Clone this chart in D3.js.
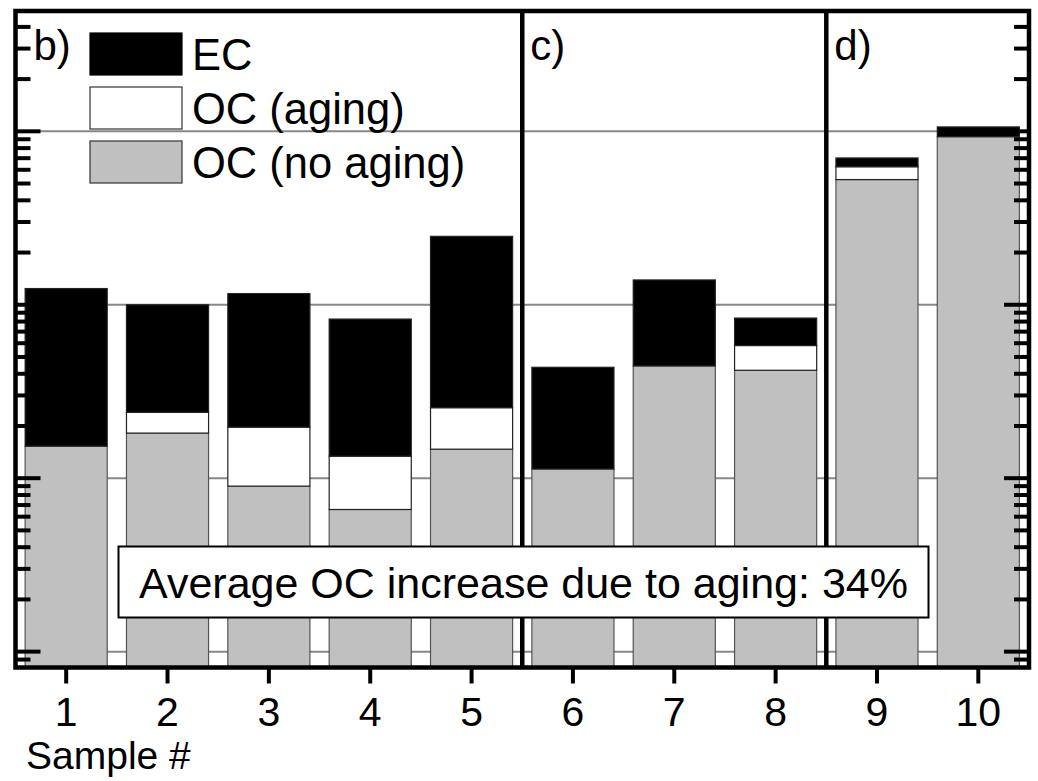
<!DOCTYPE html>
<html>
<head>
<meta charset="utf-8">
<script src="https://cdn.jsdelivr.net/npm/d3@7"></script>
<style>
  html, body { margin: 0; padding: 0; background: #fff; }
  svg { display: block; font-family: "Liberation Sans", Arial, sans-serif; }
</style>
</head>
<body>
<svg id="chart" width="1038" height="781"></svg>
<script>
// ---- data ----
const samples = ["1", "2", "3", "4", "5", "6", "7", "8", "9", "10"];
const ocNoAging = [1.53, 1.82, 0.90, 0.66, 1.47, 1.13, 4.44, 4.19, 52.7, 93.1];
const ocAging   = [0, 0.58, 1.07, 0.68, 1.08, 0, 0, 1.63, 9.8, 0];
const ec        = [10.87, 7.6, 9.63, 6.93, 22.25, 3.23, 9.46, 2.56, 7.7, 12.9];
const seriesNames = ["EC", "OC (aging)", "OC (no aging)"];
const panelLabels = ["b)", "c)", "d)"];
const gridValues = [0.1, 1, 10, 100];
const yDomain = [0.081, 494];
const annotation = "Average OC increase due to aging: 34%";
const xTitle = "Sample #";

// ---- layout ----
const L = 15.5, R = 1029, T = 11, B = 667.5;
const svg = d3.select("#chart");

const x = d3.scaleBand().domain(samples).range([L, R]).paddingInner(0.19).paddingOuter(0.095);
const y = d3.scaleLog().domain(yDomain).range([B, T]);

const colors = { noAging: "#c0c0c0", aging: "#ffffff", ec: "#000000" };

const rows = samples.map((s, i) => ({ sample: s, noAging: ocNoAging[i], aging: ocAging[i], ec: ec[i] }));
const stacked = d3.stack().keys(["noAging", "aging", "ec"])(rows);

// gridlines
svg.append("g").selectAll("line").data(gridValues).join("line")
  .attr("x1", L).attr("x2", R)
  .attr("y1", d => y(d)).attr("y2", d => y(d))
  .attr("stroke", "#888").attr("stroke-width", 2);

// bars
const barG = svg.append("g");
stacked.forEach(layer => {
  const key = layer.key;
  barG.append("g").selectAll("rect")
    .data(layer.filter(d => d[1] - d[0] > 0))
    .join("rect")
    .attr("x", d => x(d.data.sample))
    .attr("width", x.bandwidth())
    .attr("y", d => y(d[1]))
    .attr("height", d => y(Math.max(d[0], yDomain[0])) - y(d[1]))
    .attr("fill", colors[key])
    .attr("stroke", key === "noAging" ? "#555" : "#222")
    .attr("stroke-width", 1.2);
});

// panel separators
const sepX = [x("6") - x.step() * x.paddingInner() / 2, x("9") - x.step() * x.paddingInner() / 2];
svg.append("g").selectAll("line").data(sepX).join("line")
  .attr("x1", d => d).attr("x2", d => d)
  .attr("y1", T).attr("y2", B)
  .attr("stroke", "#000").attr("stroke-width", 4.5);

// y ticks (log minor/major), inward on both sides
const logTicks = y.ticks(40).filter(v => v >= yDomain[0] && v <= yDomain[1]);
const isMajor = v => Math.abs(Math.log10(v) - Math.round(Math.log10(v))) < 1e-6;
const tg = svg.append("g");
tg.selectAll("line.l").data(logTicks).join("line").attr("class", "l")
  .attr("x1", L).attr("x2", d => L + (isMajor(d) ? 25 : 15))
  .attr("y1", d => y(d)).attr("y2", d => y(d))
  .attr("stroke", "#000").attr("stroke-width", 4);
tg.selectAll("line.r").data(logTicks).join("line").attr("class", "r")
  .attr("x1", R).attr("x2", d => R - (isMajor(d) ? 25 : 15))
  .attr("y1", d => y(d)).attr("y2", d => y(d))
  .attr("stroke", "#000").attr("stroke-width", 4);

// x axis
const xAxis = svg.append("g").attr("transform", `translate(0,${B})`)
  .call(d3.axisBottom(x).tickSize(16).tickSizeOuter(0).tickPadding(13));
xAxis.select(".domain").remove();
xAxis.selectAll(".tick line").attr("stroke", "#000").attr("stroke-width", 4);
xAxis.selectAll(".tick text").attr("font-size", 41).attr("fill", "#000")
  .attr("font-family", "Liberation Sans, Arial, sans-serif");

// frame
svg.append("rect").attr("x", L).attr("y", T).attr("width", R - L).attr("height", B - T)
  .attr("fill", "none").attr("stroke", "#000").attr("stroke-width", 4.5);

// x title
svg.append("text").attr("x", 26).attr("y", 769).attr("font-size", 39).text(xTitle);

// panel labels
svg.append("g").selectAll("text").data(panelLabels).join("text")
  .attr("x", (d, i) => (i === 0 ? L + 18 : sepX[i - 1] + 8))
  .attr("y", 60).attr("font-size", 42).text(d => d);

// legend
const legendKeys = ["ec", "aging", "noAging"];
const lg = svg.append("g").attr("transform", "translate(90,33)");
legendKeys.forEach((k, i) => {
  lg.append("rect").attr("x", 0).attr("y", i * 54).attr("width", 92).attr("height", 42)
    .attr("fill", colors[k]).attr("stroke", k === "ec" ? "#000" : "#333").attr("stroke-width", 1.2);
  lg.append("text").attr("x", 102).attr("y", i * 54 + 37).attr("font-size", 43.5).text(seriesNames[i]);
});

// annotation box
const ag = svg.append("g");
ag.append("rect").attr("x", 118.5).attr("y", 546.5).attr("width", 810).attr("height", 71)
  .attr("fill", "#fff").attr("stroke", "#000").attr("stroke-width", 2);
ag.append("text").attr("x", 523.5).attr("y", 598).attr("text-anchor", "middle")
  .attr("font-size", 43).text(annotation);
</script>
</body>
</html>
